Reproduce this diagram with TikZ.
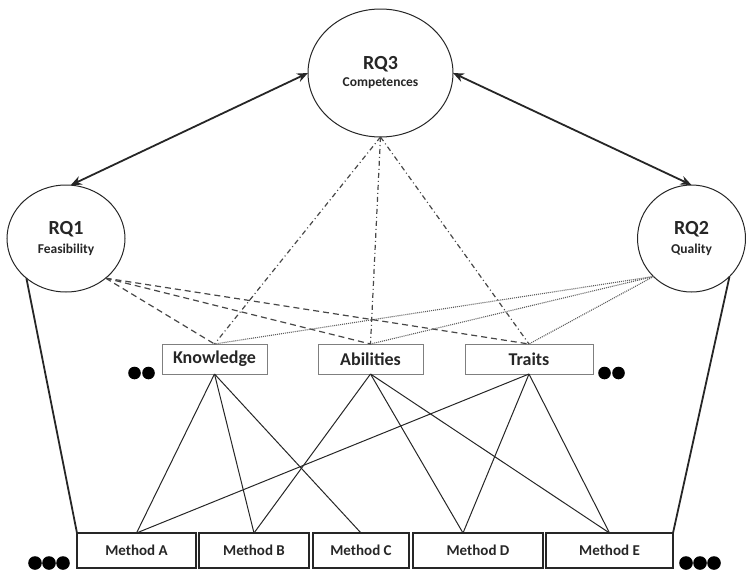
\documentclass[tikz,border=0pt]{standalone}
\usepackage{fontspec}
\setmainfont{Carlito}
\usetikzlibrary{shapes.geometric,arrows.meta}
\definecolor{ink}{HTML}{262626}
\definecolor{boxgray}{HTML}{7F7F7F}
\begin{document}
\begin{tikzpicture}[x=1pt,y=-1pt,
  rq/.style={draw=ink,line width=1pt,ellipse,inner sep=0pt,outer sep=0pt},
  rqtitle/.style={font=\fontsize{20}{22}\selectfont\bfseries,text=ink,inner sep=0pt},
  rqsub/.style={font=\fontsize{13.5}{15}\selectfont\bfseries,text=ink,inner sep=0pt},
  midbox/.style={draw=boxgray,line width=0.9pt,minimum height=30pt,inner sep=0pt,outer sep=0pt,
     font=\fontsize{18}{20}\selectfont\bfseries,text=ink},
  methbox/.style={draw=ink,line width=1.1pt,minimum height=35pt,inner sep=0pt,outer sep=0pt,
     font=\fontsize{15}{17}\selectfont\bfseries,text=ink},
  bigarrow/.style={line width=1.8pt,draw=ink,{Stealth[length=11pt,width=9pt]}-{Stealth[length=11pt,width=9pt]}},
  thickline/.style={line width=1.8pt,draw=ink},
  thin/.style={line width=1pt,draw=ink},
  dashlink/.style={line width=1.2pt,draw=ink!85,dash pattern=on 6pt off 4pt},
  dashdotlink/.style={line width=1.2pt,draw=ink!85,dash pattern=on 5pt off 3pt on 1pt off 3pt},
  dotlink/.style={line width=1.1pt,draw=ink!75,dash pattern=on 1pt off 1pt},
  dot/.style={fill=black}
]
\useasboundingbox (0,0) rectangle (746,570);

% research question ellipses
\node[rq,minimum width=145pt,minimum height=128pt] (rq3) at (380.5,73) {};
\node[rq,minimum width=118pt,minimum height=107pt] (rq1) at (66,238.5) {};
\node[rq,minimum width=108pt,minimum height=107pt] (rq2) at (691.5,238.5) {};

\node[rqtitle] (rq3t) at (380.5,64) {RQ3};
\node[rqsub] (rq3s) at (380.5,83) {Competences};
\node[rqtitle] (rq1t) at (66,229) {RQ1};
\node[rqsub] (rq1s) at (66,250) {Feasibility};
\node[rqtitle] (rq2t) at (691.5,229) {RQ2};
\node[rqsub] (rq2s) at (691.5,250) {Quality};

% competence boxes
\node[midbox,minimum width=105pt] (kn) at (214.5,359) {Knowledge};
\node[midbox,minimum width=105pt] (ab) at (370.5,359) {Abilities};
\node[midbox,minimum width=128pt] (tr) at (529,359) {Traits};

% method boxes
\node[methbox,minimum width=119pt] (ma) at (136.5,550.5) {Method A};
\node[methbox,minimum width=110pt] (mb) at (254,550.5) {Method B};
\node[methbox,minimum width=96pt] (mc) at (361,550.5) {Method C};
\node[methbox,minimum width=130pt] (md) at (478,550.5) {Method D};
\node[methbox,minimum width=127pt] (me) at (609.5,550.5) {Method E};
\coordinate (mdtop) at (463,533);

% big arrows
\draw[bigarrow] (rq1.85) -- (rq3.west);
\draw[bigarrow] (rq3.east) -- (rq2.north);

% thick outer lines
\draw[thickline] (rq1.225) -- (ma.north west);
\draw[thickline] (rq2.-45) -- (me.north east);

% RQ1 dashed links
\draw[dashlink] (rq1.-45) -- (kn.north);
\draw[dashlink] (rq1.-45) -- (ab.north);
\draw[dashlink] (rq1.-45) -- (tr.north);

% RQ3 dash-dot links
\draw[dashdotlink] (rq3.south) -- (kn.north);
\draw[dashdotlink] (rq3.south) -- (ab.north);
\draw[dashdotlink] (rq3.south) -- (tr.north);

% RQ2 dotted links
\draw[dotlink] (rq2.225) -- (kn.north);
\draw[dotlink] (rq2.225) -- (ab.north);
\draw[dotlink] (rq2.225) -- (tr.north);

% competence to method links
\draw[thin] (kn.south) -- (ma.north);
\draw[thin] (kn.south) -- (mb.north);
\draw[thin] (kn.south) -- (mc.north);
\draw[thin] (ab.south) -- (mb.north);
\draw[thin] (ab.south) -- (mdtop);
\draw[thin] (ab.south) -- (me.north);
\draw[thin] (tr.south) -- (ma.north);
\draw[thin] (tr.south) -- (mdtop);
\draw[thin] (tr.south) -- (me.north);

% ellipsis dots
\fill[dot] (134.5,373) circle[radius=6.3];
\fill[dot] (148.5,373) circle[radius=6.3];
\fill[dot] (604.5,373) circle[radius=6.3];
\fill[dot] (618.5,373) circle[radius=6.3];
\fill[dot] (35,563) circle[radius=6.8];
\fill[dot] (49,563) circle[radius=6.8];
\fill[dot] (63,563) circle[radius=6.8];
\fill[dot] (686,563) circle[radius=6.8];
\fill[dot] (700,563) circle[radius=6.8];
\fill[dot] (714,563) circle[radius=6.8];
\end{tikzpicture}
\end{document}
